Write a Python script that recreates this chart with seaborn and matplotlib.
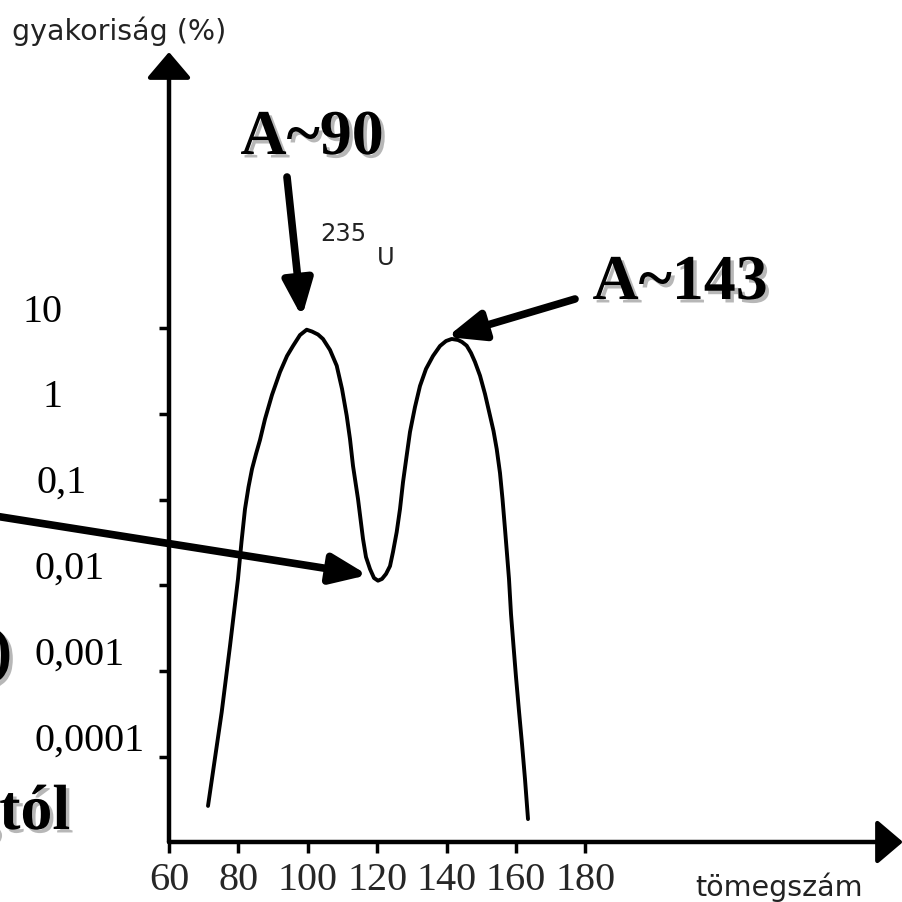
import numpy as np
import pandas as pd
import matplotlib
matplotlib.use("Agg")
import matplotlib.pyplot as plt
import matplotlib.patheffects as pe
import matplotlib.transforms as mtransforms
import seaborn as sns

# ---- data ----
mass_number = [71.24, 75.19, 77.58, 79.88, 80.89, 81.90, 82.91, 83.92, 85.07, 86.22,
               87.67, 89.68, 91.99, 94.01, 95.73, 97.75, 99.68, 101.21, 102.94,
               104.38, 106.40, 108.33, 109.86, 111.21, 112.16, 113.03, 114.47,
               115.91, 116.77, 117.93, 119.08, 120.23, 121.38, 122.54, 123.69,
               124.55, 125.62, 126.57, 127.44, 128.44, 129.45, 130.89, 132.33,
               134.06, 136.08, 138.10, 139.83, 141.47, 143.29, 144.44, 145.79,
               147.03, 148.18, 149.63, 151.07, 152.51, 153.52, 154.44, 155.39,
               156.11, 156.83, 157.41, 157.98, 158.56, 159.28, 160.0, 160.86,
               161.73, 162.59, 163.46]
yield_pct = [2.69e-5, 3.34e-4, 1.97e-3, 0.0119, 0.0321, 0.0776, 0.140, 0.227, 0.340, 0.495,
             0.869, 1.66, 3.07, 4.72, 6.17, 8.28, 9.55, 9.10, 8.40,
             7.45, 5.55, 3.64, 1.95, 0.951, 0.508, 0.247, 0.1016,
             0.0348, 0.0214, 0.0155, 0.0122, 0.01135, 0.0119, 0.0136, 0.0168,
             0.0245, 0.0419, 0.0776, 0.160, 0.314, 0.614, 1.20, 2.11,
             3.33, 4.72, 6.17, 7.05, 7.45, 7.25, 6.87, 6.22,
             5.12, 4.02, 2.78, 1.70, 0.951, 0.631, 0.389, 0.204,
             0.1016, 0.0454, 0.0232, 0.0119, 4.64e-3, 1.97e-3, 8.55e-4, 3.44e-4,
             1.42e-4, 5.54e-5, 1.89e-5]
x_ticks = [60, 80, 100, 120, 140, 160, 180]
y_ticks = [10, 1, 0.1, 0.01, 0.001, 0.0001]
y_tick_labels = ["10", "1", "0,1", "0,01", "0,001", "0,0001"]
y_label = "gyakoriság (%)"
x_label = "tömegszám"
peak_light = "A~90"
peak_heavy = "A~143"
nucleus_mass = "235"
nucleus_symbol = "U"
peak_light_point = (98.3, 13.4)
peak_heavy_point = (140.1, 7.85)
trough_point = (117.3, 0.0132)

df = pd.DataFrame({"A": mass_number, "yield": yield_pct})

sns.set_theme(style="white")
plt.rcParams["font.family"] = ["Liberation Serif", "DejaVu Serif"]

W = 903.0
fig = plt.figure(figsize=(9.03, 9.03), dpi=100)
fig.patch.set_facecolor("white")

def fp(x, y):
    """pixel (from top-left) -> figure fraction"""
    return (x / W, 1 - y / W)

ax = fig.add_axes([169 / W, (W - 843) / W, (W - 169) / W, (843 - 53) / W])
ax.set_facecolor("white")
ax.set_yscale("log")
ax.set_xlim(60, 60 + (W - 169) / 3.47)
ax.set_ylim(10 ** (1 - (843 - 329) / 85.8), 10 ** (1 + (329 - 53) / 85.8))

sns.lineplot(data=df, x="A", y="yield", ax=ax, color="black", lw=2.8,
             estimator=None)
ax.lines[-1].set_solid_joinstyle("round")
ax.lines[-1].set_solid_capstyle("round")

for s in ax.spines.values():
    s.set_visible(False)

# axes with arrow heads
arrow_axis = dict(arrowstyle="-|>,head_length=0.8,head_width=0.68",
                  mutation_scale=20, lw=3.2, color="black",
                  shrinkA=0, shrinkB=0)
ax.annotate("", xy=(0, 1), xytext=(0, 0), xycoords="axes fraction",
            textcoords="axes fraction", arrowprops=arrow_axis, annotation_clip=False)
ax.annotate("", xy=(1, 0), xytext=(0, 0), xycoords="axes fraction",
            textcoords="axes fraction", arrowprops=arrow_axis, annotation_clip=False)

ax.set_xticks(x_ticks)
ax.set_xticklabels([str(v) for v in x_ticks], fontsize=29,
                   fontfamily="Liberation Serif")
ax.set_yticks(y_ticks)
ax.set_yticklabels([""] * len(y_ticks))
ax.yaxis.set_minor_locator(matplotlib.ticker.NullLocator())
ax.tick_params(axis="x", direction="out", length=8, width=2.5, color="black",
               pad=6, bottom=True)
ax.tick_params(axis="y", direction="out", length=7, width=2.5, color="black",
               left=True)
ax.set_xlabel("")
ax.set_ylabel("")

# y tick labels (placed above-left of ticks)
ytrans = ax.get_yaxis_transform() + mtransforms.ScaledTranslation(0, 17 / 100, fig.dpi_scale_trans)
label_left_px = [22, 43, 37, 35, 35, 35]
for v, lab, lx in zip(y_ticks, y_tick_labels, label_left_px):
    ax.text((lx - 169) / (W - 169), v, lab, transform=ytrans, ha="left",
            va="center", fontsize=29, fontfamily="Liberation Serif",
            color="black", clip_on=False)

# axis titles
fig.text(*fp(12, 31), y_label, fontsize=20.5, fontfamily="DejaVu Sans",
         color="#222222", ha="left", va="center")
fig.text(*fp(695, 887), x_label, fontsize=20.5, fontfamily="DejaVu Sans",
         color="#222222", ha="left", va="center")

# 235U
fig.text(*fp(320, 234), nucleus_mass, fontsize=17.5, fontfamily="DejaVu Sans",
         color="#222222", ha="left", va="center")
fig.text(*fp(377, 258), nucleus_symbol, fontsize=17.5, fontfamily="DejaVu Sans",
         color="#222222", ha="left", va="center")

shadow = [pe.withSimplePatchShadow(offset=(2.5, -2.5), shadow_rgbFace="#888888",
                                   alpha=0.6)]
bold = dict(fontsize=46, fontweight="bold", fontfamily="Liberation Serif",
            color="black", path_effects=shadow)
fig.text(*fp(312, 140), peak_light, ha="center", va="center", **bold)
fig.text(*fp(680, 285), peak_heavy, ha="center", va="center", **bold)
fig.text(*fp(12, 657), ")", ha="right", va="center", **bold)
fig.text(*fp(70, 830), "gtól", ha="right", va="baseline", **bold)

# pointer arrows
arrow_ptr = dict(arrowstyle="-|>,head_length=1.1,head_width=0.45",
                 mutation_scale=20, lw=5.5, color="black", shrinkA=0, shrinkB=0)
ax.annotate("", xy=peak_light_point, xycoords="data",
            xytext=fp(287, 178), textcoords="figure fraction",
            arrowprops=arrow_ptr, annotation_clip=False)
ax.annotate("", xy=peak_heavy_point, xycoords="data",
            xytext=fp(575, 300), textcoords="figure fraction",
            arrowprops=arrow_ptr, annotation_clip=False)
ax.annotate("", xy=trough_point, xycoords="data",
            xytext=fp(-5, 517), textcoords="figure fraction",
            arrowprops=arrow_ptr, annotation_clip=False)

fig.savefig("out.png", dpi=100, facecolor="white")
